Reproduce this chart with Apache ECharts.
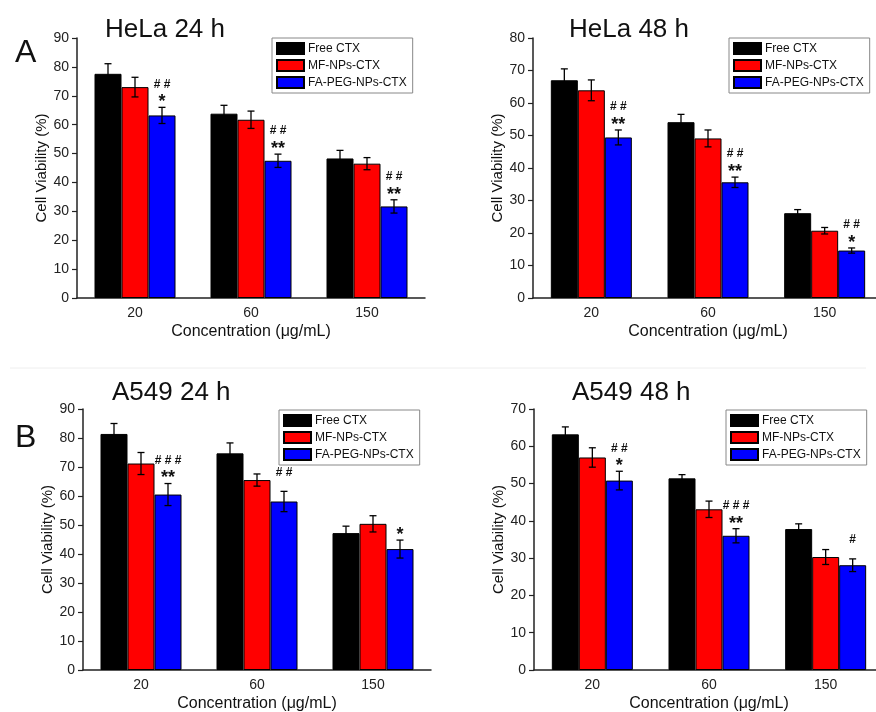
<!DOCTYPE html>
<html><head><meta charset="utf-8">
<script src="https://cdn.jsdelivr.net/npm/echarts@6/dist/echarts.min.js"></script>
<style>html,body{margin:0;padding:0;background:#fff}#c{width:876px;height:712px}</style>
</head><body><div id="c"></div>
<script>
const categories = ['20', '60', '150'];
const seriesNames = ['Free CTX', 'MF-NPs-CTX', 'FA-PEG-NPs-CTX'];
const panelTitles = ['HeLa 24 h', 'HeLa 48 h', 'A549 24 h', 'A549 48 h'];
const panelLetters = ['A', 'B'];
const yMaxes = [90, 80, 90, 70];
const yStep = 10;
const xName = 'Concentration (μg/mL)';
const yName = 'Cell Viability (%)';

// HeLa 24 h
const hela24Free = [77.6, 63.8, 48.3];
const hela24MF = [73.0, 61.7, 46.5];
const hela24FA = [63.2, 47.5, 31.7];
const hela24FreeErr = [3.5, 2.9, 2.8];
const hela24MFErr = [3.4, 3.0, 2.1];
const hela24FAErr = [2.8, 2.3, 2.3];
const hela24Hash = ['# #', '# #', '# #'];
const hela24Star = ['*', '**', '**'];

// HeLa 48 h
const hela48Free = [67.0, 54.1, 26.1];
const hela48MF = [63.9, 49.1, 20.7];
const hela48FA = [49.4, 35.6, 14.6];
const hela48FreeErr = [3.5, 2.4, 1.1];
const hela48MFErr = [3.2, 2.6, 1.0];
const hela48FAErr = [2.3, 1.6, 0.8];
const hela48Hash = ['# #', '# #', '# #'];
const hela48Star = ['**', '**', '*'];

// A549 24 h
const a549_24Free = [81.4, 74.7, 47.2];
const a549_24MF = [71.2, 65.5, 50.4];
const a549_24FA = [60.5, 58.1, 41.7];
const a549_24FreeErr = [3.6, 3.6, 2.4];
const a549_24MFErr = [3.8, 2.1, 2.8];
const a549_24FAErr = [3.8, 3.5, 3.1];
const a549_24Hash = ['# # #', '# #', ''];
const a549_24Star = ['**', '', '*'];

// A549 48 h
const a549_48Free = [63.2, 51.4, 37.8];
const a549_48MF = [57.0, 43.1, 30.3];
const a549_48FA = [50.8, 36.0, 28.1];
const a549_48FreeErr = [2.0, 1.0, 1.4];
const a549_48MFErr = [2.6, 2.2, 2.0];
const a549_48FAErr = [2.5, 1.9, 1.7];
const a549_48Hash = ['# #', '# # #', '#'];
const a549_48Star = ['*', '**', ''];

const FONT = '"Liberation Sans", Arial, sans-serif';
const colors = ['#000000', '#ff0000', '#0000ff'];
const BAR_W = 27;

const panels = [
  {vals: [hela24Free, hela24MF, hela24FA], errs: [hela24FreeErr, hela24MFErr, hela24FAErr], hash: hela24Hash, star: hela24Star},
  {vals: [hela48Free, hela48MF, hela48FA], errs: [hela48FreeErr, hela48MFErr, hela48FAErr], hash: hela48Hash, star: hela48Star},
  {vals: [a549_24Free, a549_24MF, a549_24FA], errs: [a549_24FreeErr, a549_24MFErr, a549_24FAErr], hash: a549_24Hash, star: a549_24Star},
  {vals: [a549_48Free, a549_48MF, a549_48FA], errs: [a549_48FreeErr, a549_48MFErr, a549_48FAErr], hash: a549_48Hash, star: a549_48Star}
];

const gridPos = [
  {left: 77, top: 38, width: 348, height: 260},
  {left: 533, top: 38, width: 350, height: 260},
  {left: 83, top: 409, width: 348, height: 261},
  {left: 534, top: 409, width: 350, height: 261}
];
const titlePos = [{left: 100, top: 12}, {left: 564, top: 12}, {left: 107, top: 375}, {left: 567, top: 375}];
const letterPos = [{left: 10, top: 32}, {left: 10, top: 417}];
const legendPos = [{left: 272, top: 38}, {left: 729, top: 38}, {left: 279, top: 410}, {left: 726, top: 410}];

const option = {
  animation: false,
  backgroundColor: '#fff',
  title: [],
  legend: [],
  grid: [],
  xAxis: [],
  yAxis: [],
  series: [],
  graphic: [{type: 'line', shape: {x1: 10, y1: 368, x2: 866, y2: 368}, style: {stroke: '#eeeeee', lineWidth: 1}, silent: true}]
};

panelLetters.forEach((t, i) => {
  option.title.push({text: t, left: letterPos[i].left, top: letterPos[i].top,
    textStyle: {fontFamily: FONT, fontSize: 32, fontWeight: 'normal', color: '#111'}});
});

panels.forEach((p, k) => {
  option.title.push({text: panelTitles[k], left: titlePos[k].left, top: titlePos[k].top,
    textStyle: {fontFamily: FONT, fontSize: 26, fontWeight: 'normal', color: '#111'}});
  option.grid.push(Object.assign({outerBoundsMode: 'none', containLabel: false}, gridPos[k]));
  option.legend.push({
    left: legendPos[k].left, top: legendPos[k].top, orient: 'vertical',
    data: seriesNames, icon: 'rect', itemWidth: 27, itemHeight: 11, itemGap: 4,
    padding: [4, 6, 4, 4], borderColor: '#888', borderWidth: 1, selectedMode: false,
    textStyle: {fontFamily: FONT, fontSize: 12, color: '#111', padding: [0, 0, 0, -1]}
  });
  option.xAxis.push({
    type: 'category', gridIndex: k, data: categories,
    name: xName, nameLocation: 'middle', nameGap: 26,
    nameTextStyle: {fontFamily: FONT, fontSize: 16, color: '#111'},
    axisLine: {lineStyle: {color: '#222', width: 1.5}},
    axisTick: {alignWithLabel: true, inside: true, length: 5, lineStyle: {color: '#222', width: 1.2}},
    axisLabel: {fontFamily: FONT, fontSize: 14, color: '#222', margin: 8},
    splitLine: {show: false}
  });
  option.yAxis.push({
    type: 'value', gridIndex: k, min: 0, max: yMaxes[k], interval: yStep,
    name: yName, nameLocation: 'middle', nameGap: 28,
    nameTextStyle: {fontFamily: FONT, fontSize: 15, color: '#111'},
    axisLine: {show: true, lineStyle: {color: '#222', width: 1.5}},
    axisTick: {show: true, length: 5, lineStyle: {color: '#222', width: 1.2}},
    axisLabel: {fontFamily: FONT, fontSize: 14, color: '#222', margin: 8},
    splitLine: {show: false}
  });
  p.vals.forEach((vals, s) => {
    option.series.push({
      type: 'bar', name: seriesNames[s], xAxisIndex: k, yAxisIndex: k,
      data: vals, barWidth: BAR_W, barGap: '0%',
      itemStyle: {color: colors[s], borderColor: '#000', borderWidth: 1}
    });
  });
  // error bars
  const errData = [];
  p.vals.forEach((vals, s) => vals.forEach((v, c) => errData.push([c, v, p.errs[s][c], s])));
  option.series.push({
    type: 'custom', xAxisIndex: k, yAxisIndex: k, z: 5, silent: true,
    data: errData, encode: {x: 0, y: 1},
    renderItem: function (params, api) {
      const c = api.value(0), v = api.value(1), e = api.value(2), s = api.value(3);
      const top = api.coord([c, v + e]);
      const bot = api.coord([c, v - e]);
      const x = top[0] + (s - 1) * BAR_W;
      const cap = 3.5;
      const st = {stroke: '#000', lineWidth: 1.3};
      return {type: 'group', children: [
        {type: 'line', shape: {x1: x, y1: top[1], x2: x, y2: bot[1]}, style: st},
        {type: 'line', shape: {x1: x - cap, y1: top[1], x2: x + cap, y2: top[1]}, style: st},
        {type: 'line', shape: {x1: x - cap, y1: bot[1], x2: x + cap, y2: bot[1]}, style: st}
      ]};
    }
  });
  // significance marks above the FA-PEG-NPs-CTX bars
  const markData = p.vals[2].map((v, c) => [c, v + p.errs[2][c]]);
  option.series.push({
    type: 'custom', xAxisIndex: k, yAxisIndex: k, z: 6, silent: true,
    data: markData, encode: {x: 0, y: 1},
    renderItem: function (params, api) {
      const i = params.dataIndex;
      const pt = api.coord([api.value(0), api.value(1)]);
      const x = pt[0] + BAR_W;
      const hash = p.hash[i], star = p.star[i];
      const children = [];
      if (star) children.push({type: 'text', style: {text: star, x: x, y: pt[1] - 5, align: 'center', verticalAlign: 'middle',
        font: 'bold 18px ' + FONT, fill: '#111'}});
      if (hash) children.push({type: 'text', style: {text: hash, x: x, y: pt[1] - (star ? 23 : 19), align: 'center', verticalAlign: 'middle',
        font: 'bold 12px ' + FONT, fill: '#111'}});
      return {type: 'group', children: children};
    }
  });
});

const chart = echarts.init(document.getElementById('c'), null, {renderer: 'canvas'});
chart.setOption(option);
</script>
</body></html>
